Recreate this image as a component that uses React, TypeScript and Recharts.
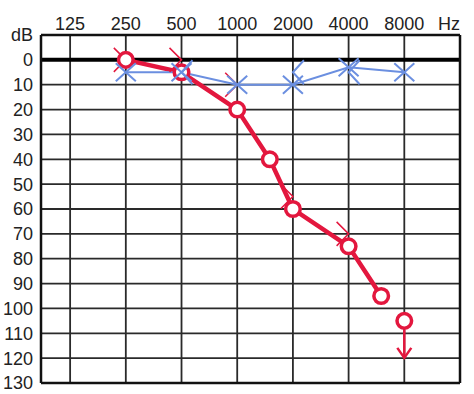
import React from 'react';
import { ComposedChart, Line, Scatter, XAxis, YAxis, CartesianGrid, ReferenceLine } from 'recharts';

const FREQ_TICKS = [125, 250, 500, 1000, 2000, 4000, 8000, 16000];
const FREQ_LABELS = ['125', '250', '500', '1000', '2000', '4000', '8000', 'Hz'];
const DB_TICKS = [-10, 0, 10, 20, 30, 40, 50, 60, 70, 80, 90, 100, 110, 120, 130];

// right ear, air conduction (O)
const rightAirFreq = [250, 500, 1000, 1500, 2000, 4000, 6000];
const rightAirDb = [0, 5, 20, 40, 60, 75, 95];
// right ear, no response at max level
const rightNrFreq = [8000];
const rightNrDb = [105];
// right ear, bone conduction (thin >)
const rightBoneFreq = [250, 500, 1000, 2000, 4000];
const rightBoneDb = [0, 0, 10, 55, 70];
// left ear, air conduction (X)
const leftAirFreq = [250, 500, 1000, 2000, 4000, 8000];
const leftAirDb = [5, 5, 10, 10, 3, 5];
// left ear, bone conduction (<)
const leftBoneFreq = [500, 2000, 4000];
const leftBoneDb = [5, 5, 5];

const RED = '#e3173e';
const BLUE = '#6b8fe0';
const GRID = '#2a2a2a';
const FONT = '"Liberation Sans", Arial, sans-serif';

const zip = (fs: number[], ds: number[]) => fs.map((f, i) => ({ f, db: ds[i] }));

const rightAir = zip(rightAirFreq, rightAirDb);
const rightNr = zip(rightNrFreq, rightNrDb);
const rightBone = zip(rightBoneFreq, rightBoneDb);
const leftAir = zip(leftAirFreq, leftAirDb);
const leftBone = zip(leftBoneFreq, leftBoneDb);

const FreqTick = (props: any) => {
  const { x, y, payload } = props;
  const i = FREQ_TICKS.indexOf(payload.value);
  const label = i >= 0 ? FREQ_LABELS[i] : String(payload.value);
  const dx = label === 'Hz' ? -5 : 0;
  return (
    <text x={x + dx} y={y} textAnchor="middle" fontSize={18} fill="#222" fontFamily={FONT}>
      {label}
    </text>
  );
};

const renderRedDot = (p: any) => (
  <circle key={`ra-${p.index}`} cx={p.cx} cy={p.cy} r={7.3} fill="#fff" stroke={RED} strokeWidth={3.5} />
);

const renderBlueX = (p: any) => {
  const { cx, cy, index } = p;
  return (
    <g key={`la-${index}`} stroke={BLUE} strokeWidth={2} fill="none">
      <line x1={cx - 10} y1={cy - 9} x2={cx + 10} y2={cy + 9} />
      <line x1={cx - 10} y1={cy + 9} x2={cx + 10} y2={cy - 9} />
    </g>
  );
};

const NoResponse = (p: any) => {
  const { cx, cy } = p;
  return (
    <g fill="none" stroke={RED}>
      <circle cx={cx} cy={cy} r={7.3} fill="#fff" strokeWidth={3.5} />
      <line x1={cx} y1={cy + 9} x2={cx} y2={cy + 37} strokeWidth={2.5} />
      <polyline points={`${cx - 7},${cy + 27} ${cx},${cy + 37} ${cx + 7},${cy + 27}`} strokeWidth={2.5} />
    </g>
  );
};

const RightBone = (p: any) => {
  const { cx, cy } = p;
  return (
    <polyline
      points={`${cx - 12},${cy - 12} ${cx},${cy} ${cx - 12},${cy + 12}`}
      fill="none"
      stroke={RED}
      strokeWidth={1.5}
    />
  );
};

const LeftBone = (p: any) => {
  const { cx, cy } = p;
  return (
    <polyline
      points={`${cx + 11},${cy - 12} ${cx},${cy} ${cx + 11},${cy + 12}`}
      fill="none"
      stroke={BLUE}
      strokeWidth={2}
    />
  );
};

export default function App() {
  return (
    <div style={{ position: 'absolute', left: 0, top: 0, background: '#fff' }}>
      <ComposedChart width={474} height={394} margin={{ top: 0, right: 14, bottom: 11, left: 0 }}>
        <CartesianGrid stroke={GRID} strokeWidth={1.8} verticalValues={FREQ_TICKS} horizontalValues={DB_TICKS} />
        <XAxis
          dataKey="f"
          type="number"
          scale="log"
          orientation="top"
          domain={[87, 16000]}
          allowDataOverflow
          ticks={FREQ_TICKS}
          tick={<FreqTick />}
          tickLine={false}
          tickSize={0}
          tickMargin={5}
          height={35}
          axisLine={{ stroke: '#111', strokeWidth: 2.5 }}
        />
        <YAxis
          type="number"
          reversed
          domain={[-10, 130]}
          ticks={DB_TICKS}
          interval={0}
          tickFormatter={(v: number) => (v === -10 ? 'dB' : String(v))}
          tick={{ fontSize: 18, fill: '#222', fontFamily: FONT }}
          tickLine={false}
          tickSize={0}
          tickMargin={8}
          width={41}
          axisLine={{ stroke: '#111', strokeWidth: 2.5 }}
        />
        <ReferenceLine y={0} stroke="#000" strokeWidth={4} />
        <ReferenceLine y={130} stroke="#111" strokeWidth={2.5} />
        <ReferenceLine x={16000} stroke="#111" strokeWidth={2.5} />

        <Scatter data={rightBone} dataKey="db" shape={<RightBone />} isAnimationActive={false} />
        <Line
          data={rightAir}
          dataKey="db"
          stroke={RED}
          strokeWidth={4.5}
          dot={renderRedDot}
          activeDot={false}
          isAnimationActive={false}
        />
        <Scatter data={rightNr} dataKey="db" shape={<NoResponse />} isAnimationActive={false} />

        <Line
          data={leftAir}
          dataKey="db"
          stroke={BLUE}
          strokeWidth={2}
          dot={renderBlueX}
          activeDot={false}
          isAnimationActive={false}
        />
        <Scatter data={leftBone} dataKey="db" shape={<LeftBone />} isAnimationActive={false} />
      </ComposedChart>
    </div>
  );
}
